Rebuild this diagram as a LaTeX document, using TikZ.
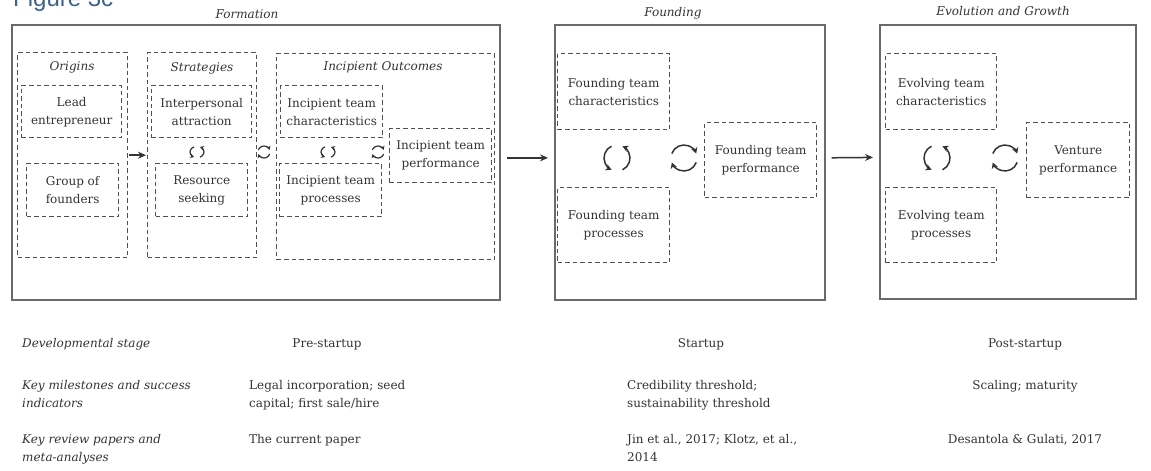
\documentclass[tikz,border=0pt]{standalone}
\usepackage{fontspec}
\setmainfont{DejaVu Serif}
\newfontfamily\figfont{Liberation Sans}
\usetikzlibrary{arrows.meta}

\definecolor{ink}{HTML}{333333}
\definecolor{frame}{HTML}{6A6A6A}
\definecolor{dashgray}{HTML}{505050}
\definecolor{figblue}{HTML}{3F6088}

\tikzset{
  pics/vcycle/.style={code={
    \draw[->] (245:#1) arc[start angle=245, end angle=115, radius=#1];
    \draw[->] (65:#1) arc[start angle=65, end angle=-65, radius=#1];
  }},
  pics/hcycle/.style={code={
    \draw[->] (200:#1) arc[start angle=200, end angle=340, radius=#1];
    \draw[->] (20:#1) arc[start angle=20, end angle=160, radius=#1];
  }},
}

\begin{document}
\begin{tikzpicture}[x=1pt, y=-1pt, >={Stealth[length=8pt,width=7pt]},
  every node/.style={text=ink, font=\fontsize{12}{18}\selectfont},
  stage/.style={draw=frame, line width=1.7pt, anchor=north west, inner sep=0pt},
  group/.style={draw=dashgray, line width=1.4pt, dash pattern=on 4.5pt off 3pt, anchor=north west, inner sep=0pt},
  item/.style={group, align=center},
  title/.style={font=\itshape\fontsize{12}{18}\selectfont},
  row/.style={anchor=base west, align=left, inner sep=0pt},
  cyc/.style={color=ink, line width=1.5pt, >={Stealth[length=6pt,width=6.5pt]}},
  cycs/.style={color=ink, line width=1.2pt, >={Stealth[length=4pt,width=4.5pt]}},
  link/.style={->, draw=ink, line width=1.5pt}]
\useasboundingbox (0,0) rectangle (1151,471);

\node[anchor=base west, inner sep=0pt, text=figblue, font=\figfont\fontsize{24}{28}\selectfont] (figname) at (13,6) {Figure 3c};

\node[stage, minimum width=488pt, minimum height=275pt] (formation) at (11,24) {};
\node[stage, minimum width=270pt, minimum height=275pt] (founding) at (554,24) {};
\node[stage, minimum width=256pt, minimum height=274pt] (evolution) at (879,24) {};
\node[title] (formationlabel) at (247,14) {Formation};
\node[title] (foundinglabel) at (673,13) {Founding};
\node[title] (evolutionlabel) at (1003,11) {Evolution and Growth};

\node[group, minimum width=110pt, minimum height=205pt] (origins) at (17,52) {};
\node[group, minimum width=109pt, minimum height=205pt] (strategies) at (147,52) {};
\node[group, minimum width=218pt, minimum height=206pt] (outcomes) at (276,53) {};
\node[title] (originslabel) at (72,67) {Origins};
\node[title] (strategieslabel) at (202,68) {Strategies};
\node[title] (outcomeslabel) at (383,67) {Incipient Outcomes};

\node[item, minimum width=100pt, minimum height=52pt] (lead) at (21,85) {Lead\\entrepreneur};
\node[item, minimum width=92pt, minimum height=53pt] (groupf) at (26,163) {Group of\\founders};
\node[item, minimum width=100pt, minimum height=52pt] (attraction) at (151,85) {Interpersonal\\attraction};
\node[item, minimum width=92pt, minimum height=53pt] (resource) at (155,163) {Resource\\seeking};
\node[item, minimum width=102pt, minimum height=52pt] (inchar) at (280,85) {Incipient team\\characteristics};
\node[item, minimum width=102pt, minimum height=53pt] (inproc) at (279,163) {Incipient team\\processes};
\node[item, minimum width=102pt, minimum height=54pt] (inperf) at (389,128) {Incipient team\\performance};

\node[item, minimum width=112pt, minimum height=76pt] (fchar) at (557,53) {Founding team\\characteristics};
\node[item, minimum width=112pt, minimum height=75pt] (fproc) at (557,187) {Founding team\\processes};
\node[item, minimum width=112pt, minimum height=75pt] (fperf) at (704,122) {Founding team\\performance};

\node[item, minimum width=111pt, minimum height=76pt] (echar) at (885,53) {Evolving team\\characteristics};
\node[item, minimum width=111pt, minimum height=75pt] (eproc) at (885,187) {Evolving team\\processes};
\node[item, minimum width=103pt, minimum height=75pt] (vperf) at (1026,122) {Venture\\performance};

\pic[cycs, yscale=0.8] (stratcyc) at (197,152) {vcycle=7};
\pic[cycs] (midcyc) at (264,152) {hcycle=6};
\pic[cycs, yscale=0.8] (incyc) at (328,152) {vcycle=7};
\pic[cycs] (inperfcyc) at (378,152) {hcycle=6};
\pic[cyc] (fcyc) at (617,158) {vcycle=13};
\pic[cyc] (fperfcyc) at (684,158) {hcycle=13};
\pic[cyc] (ecyc) at (937,158) {vcycle=13};
\pic[cyc] (eperfcyc) at (1005,158) {hcycle=13};

\draw[link, shorten <=1pt, shorten >=1pt] (origins) -- (strategies);
\draw[link, shorten <=6pt, shorten >=6pt] ([yshift=4.5pt]formation.east) -- ([yshift=4.5pt]founding.west);
\draw[link, shorten <=6pt, shorten >=6pt] ([yshift=4.5pt]founding.east) -- ([yshift=4.5pt]evolution.west);

\node[row, title] (stagehead) at (22,347) {Developmental stage};
\node[anchor=base] (prestage) at (327,347) {Pre-startup};
\node[anchor=base] (startstage) at (701,347) {Startup};
\node[anchor=base] (poststage) at (1025,347) {Post-startup};
\node[row, title] (milehead) at (22,407) {Key milestones and success\\indicators};
\node[row] (premile) at (249,407) {Legal incorporation; seed\\capital; first sale/hire};
\node[row] (startmile) at (627,407) {Credibility threshold;\\sustainability threshold};
\node[anchor=base] (postmile) at (1025,389) {Scaling; maturity};
\node[row, title] (revhead) at (22,461) {Key review papers and\\meta-analyses};
\node[row] (prerev) at (249,443) {The current paper};
\node[row] (startrev) at (627,461) {Jin et al., 2017; Klotz, et al.,\\2014};
\node[anchor=base] (postrev) at (1025,443) {Desantola \& Gulati, 2017};
\end{tikzpicture}
\end{document}
